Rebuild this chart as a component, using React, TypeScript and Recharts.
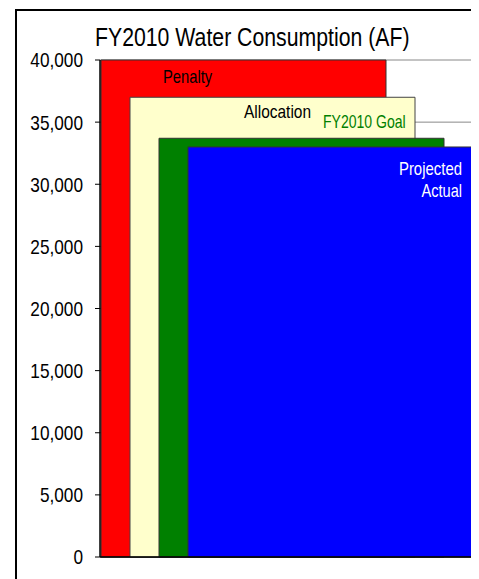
import React from "react";
import { BarChart, Bar, XAxis, YAxis, CartesianGrid, LabelList } from "recharts";

const categories = ["FY2010"];
const penaltyValues = [40000];
const allocationValues = [37000];
const goalValues = [33700];
const actualValues = [33000];
const yTicks = [0, 5000, 10000, 15000, 20000, 25000, 30000, 35000, 40000];

const data = categories.map((c, i) => ({
  name: c,
  penalty: penaltyValues[i],
  allocation: allocationValues[i],
  goal: goalValues[i],
  actual: actualValues[i],
}));

const FONT = "'Liberation Sans', Arial, sans-serif";

const NarrowText = ({ x, y, anchor = "start", size = 18, fill = "#000", scale = 0.82, children }: any) => (
  <g transform={`translate(${x},${y})`}>
    <text x={0} y={0} transform={`scale(${scale},1)`} textAnchor={anchor} fontSize={size} fill={fill} fontFamily={FONT}>
      {children}
    </text>
  </g>
);

const PenaltyLabel = (p: any) => (
  <NarrowText x={p.x + 62} y={p.y + 23} scale={0.82}>Penalty</NarrowText>
);
const AllocationLabel = (p: any) => (
  <NarrowText x={p.x + 114} y={p.y + 21} scale={0.86}>Allocation</NarrowText>
);
const GoalLabel = (p: any) => (
  <NarrowText x={p.x + 164} y={p.y - 10} scale={0.78} fill="#008000">FY2010 Goal</NarrowText>
);
const ActualLabel = (p: any) => (
  <g>
    <NarrowText x={p.x + p.width - 11} y={p.y + 28} anchor="end" fill="#fff" scale={0.83}>Projected</NarrowText>
    <NarrowText x={p.x + p.width - 11} y={p.y + 50} anchor="end" fill="#fff" scale={0.81}>Actual</NarrowText>
  </g>
);

const YTick = (p: any) => (
  <g transform={`translate(${p.x},${p.y})`}>
    <text x={0} y={0} dy="0.355em" transform="scale(0.82,1)" textAnchor="end" fontSize={21} fill="#000" fontFamily={FONT}>
      {Number(p.payload.value).toLocaleString("en-US")}
    </text>
  </g>
);

export default function App() {
  return (
    <div style={{ position: "relative", width: 471, height: 571, overflow: "hidden", fontFamily: FONT }}>
      <div
        style={{
          position: "absolute",
          left: 7,
          top: 1,
          width: 600,
          height: 700,
          borderLeft: "2px solid #000",
          borderTop: "2px solid #000",
          boxSizing: "border-box",
        }}
      />
      <div
        style={{
          position: "absolute",
          left: 87,
          top: 17,
          fontSize: 25,
          lineHeight: "25px",
          whiteSpace: "nowrap",
          color: "#000",
          transform: "scaleX(0.85)",
          transformOrigin: "left top",
        }}
      >
        FY2010 Water Consumption (AF)
      </div>
      <div style={{ position: "absolute", left: 0, top: 0 }}>
        <BarChart
          width={471}
          height={571}
          data={data}
          margin={{ top: 52, right: 4, bottom: 21, left: 0 }}
          barSize={285}
          barGap={-256}
          barCategoryGap={0}
        >
          <CartesianGrid yAxisId="left" stroke="#888" strokeWidth={1} vertical={false} />
          <XAxis
            dataKey="name"
            tick={false}
            tickLine={false}
            height={1}
            axisLine={{ stroke: "#000", strokeWidth: 1.5 }}
          />
          <YAxis
            yAxisId="left"
            width={92}
            domain={[0, 40000]}
            ticks={yTicks}
            interval={0}
            tick={<YTick />}
            tickSize={5}
            tickMargin={12}
            tickLine={{ stroke: "#000" }}
            axisLine={{ stroke: "#000", strokeWidth: 1.5 }}
          />
          <YAxis
            yAxisId="right"
            orientation="right"
            width={1}
            domain={[0, 40000]}
            ticks={yTicks}
            tick={false}
            tickLine={false}
            axisLine={{ stroke: "#888", strokeWidth: 1 }}
          />
          <Bar yAxisId="left" dataKey="penalty" fill="#FF0000" stroke="#333" strokeWidth={1} isAnimationActive={false}>
            <LabelList dataKey="penalty" content={PenaltyLabel} />
          </Bar>
          <Bar yAxisId="left" dataKey="allocation" fill="#FFFFCC" stroke="#444" strokeWidth={1} isAnimationActive={false}>
            <LabelList dataKey="allocation" content={AllocationLabel} />
          </Bar>
          <Bar yAxisId="left" dataKey="goal" fill="#008000" stroke="#333" strokeWidth={1} isAnimationActive={false}>
            <LabelList dataKey="goal" content={GoalLabel} />
          </Bar>
          <Bar yAxisId="left" dataKey="actual" fill="#0000FF" stroke="#333" strokeWidth={1} isAnimationActive={false}>
            <LabelList dataKey="actual" content={ActualLabel} />
          </Bar>
        </BarChart>
      </div>
    </div>
  );
}
